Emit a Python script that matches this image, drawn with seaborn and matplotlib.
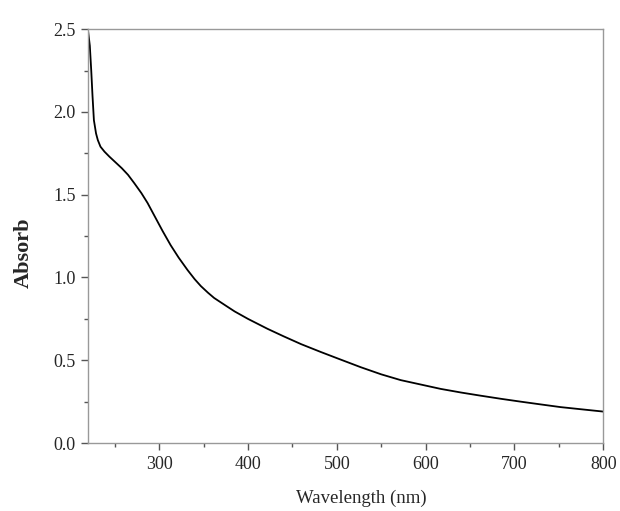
import numpy as np
import matplotlib
matplotlib.use("Agg")
import matplotlib.pyplot as plt
from matplotlib.ticker import MultipleLocator
import seaborn as sns
import pandas as pd

# Data
wavelength = [220, 222, 223.6, 225, 226.6, 229, 231, 234, 238.5, 244, 250, 258, 265, 272, 280,
              287, 295, 304, 313, 322, 332, 340, 347, 355, 362, 375, 385, 400, 422, 440,
              460, 482, 500, 527, 550, 572, 600, 617, 640, 662, 685, 707, 730, 752, 775, 800]
absorb = [2.49, 2.40, 2.25, 2.10, 1.95, 1.87, 1.83, 1.79, 1.76, 1.73, 1.70, 1.66, 1.62, 1.57, 1.51,
          1.45, 1.37, 1.28, 1.195, 1.12, 1.045, 0.99, 0.948, 0.908, 0.876, 0.83, 0.795, 0.75, 0.69, 0.645,
          0.597, 0.55, 0.513, 0.458, 0.415, 0.38, 0.347, 0.327, 0.305, 0.286, 0.267, 0.25, 0.233, 0.217, 0.204, 0.19]

df = pd.DataFrame({'Wavelength': wavelength, 'Absorb': absorb})

sns.set_style('ticks')
plt.rcParams['font.family'] = ['Liberation Serif', 'DejaVu Serif']

fig = plt.figure(figsize=(6.2, 5.11), dpi=100)
ax = fig.add_axes([0.142, 0.133, 0.831, 0.810])

sns.lineplot(x='Wavelength', y='Absorb', data=df, color='black', linewidth=1.3, ax=ax)

ax.set_xlim(220, 800)
ax.set_ylim(0, 2.5)
ax.xaxis.set_major_locator(MultipleLocator(100))
ax.xaxis.set_minor_locator(MultipleLocator(50))
ax.yaxis.set_major_locator(MultipleLocator(0.5))
ax.yaxis.set_minor_locator(MultipleLocator(0.25))
ax.yaxis.set_major_formatter(matplotlib.ticker.FormatStrFormatter('%.1f'))

for s in ax.spines.values():
    s.set_visible(True)
    s.set_color('#999999')
    s.set_linewidth(1.0)

ax.tick_params(which='major', direction='out', length=5, width=1, color='#555555', labelsize=13, pad=4)
ax.tick_params(which='minor', direction='out', length=3, width=1, color='#555555')
ax.tick_params(top=False, right=False)

ax.set_xlabel('Wavelength (nm)', fontsize=13.5)
ax.xaxis.set_label_coords(0.53, -0.112)
ax.set_ylabel('Absorb', fontsize=16, fontweight='semibold')
ax.yaxis.set_label_coords(-0.105, 0.46)

fig.savefig('out.png', dpi=100)
